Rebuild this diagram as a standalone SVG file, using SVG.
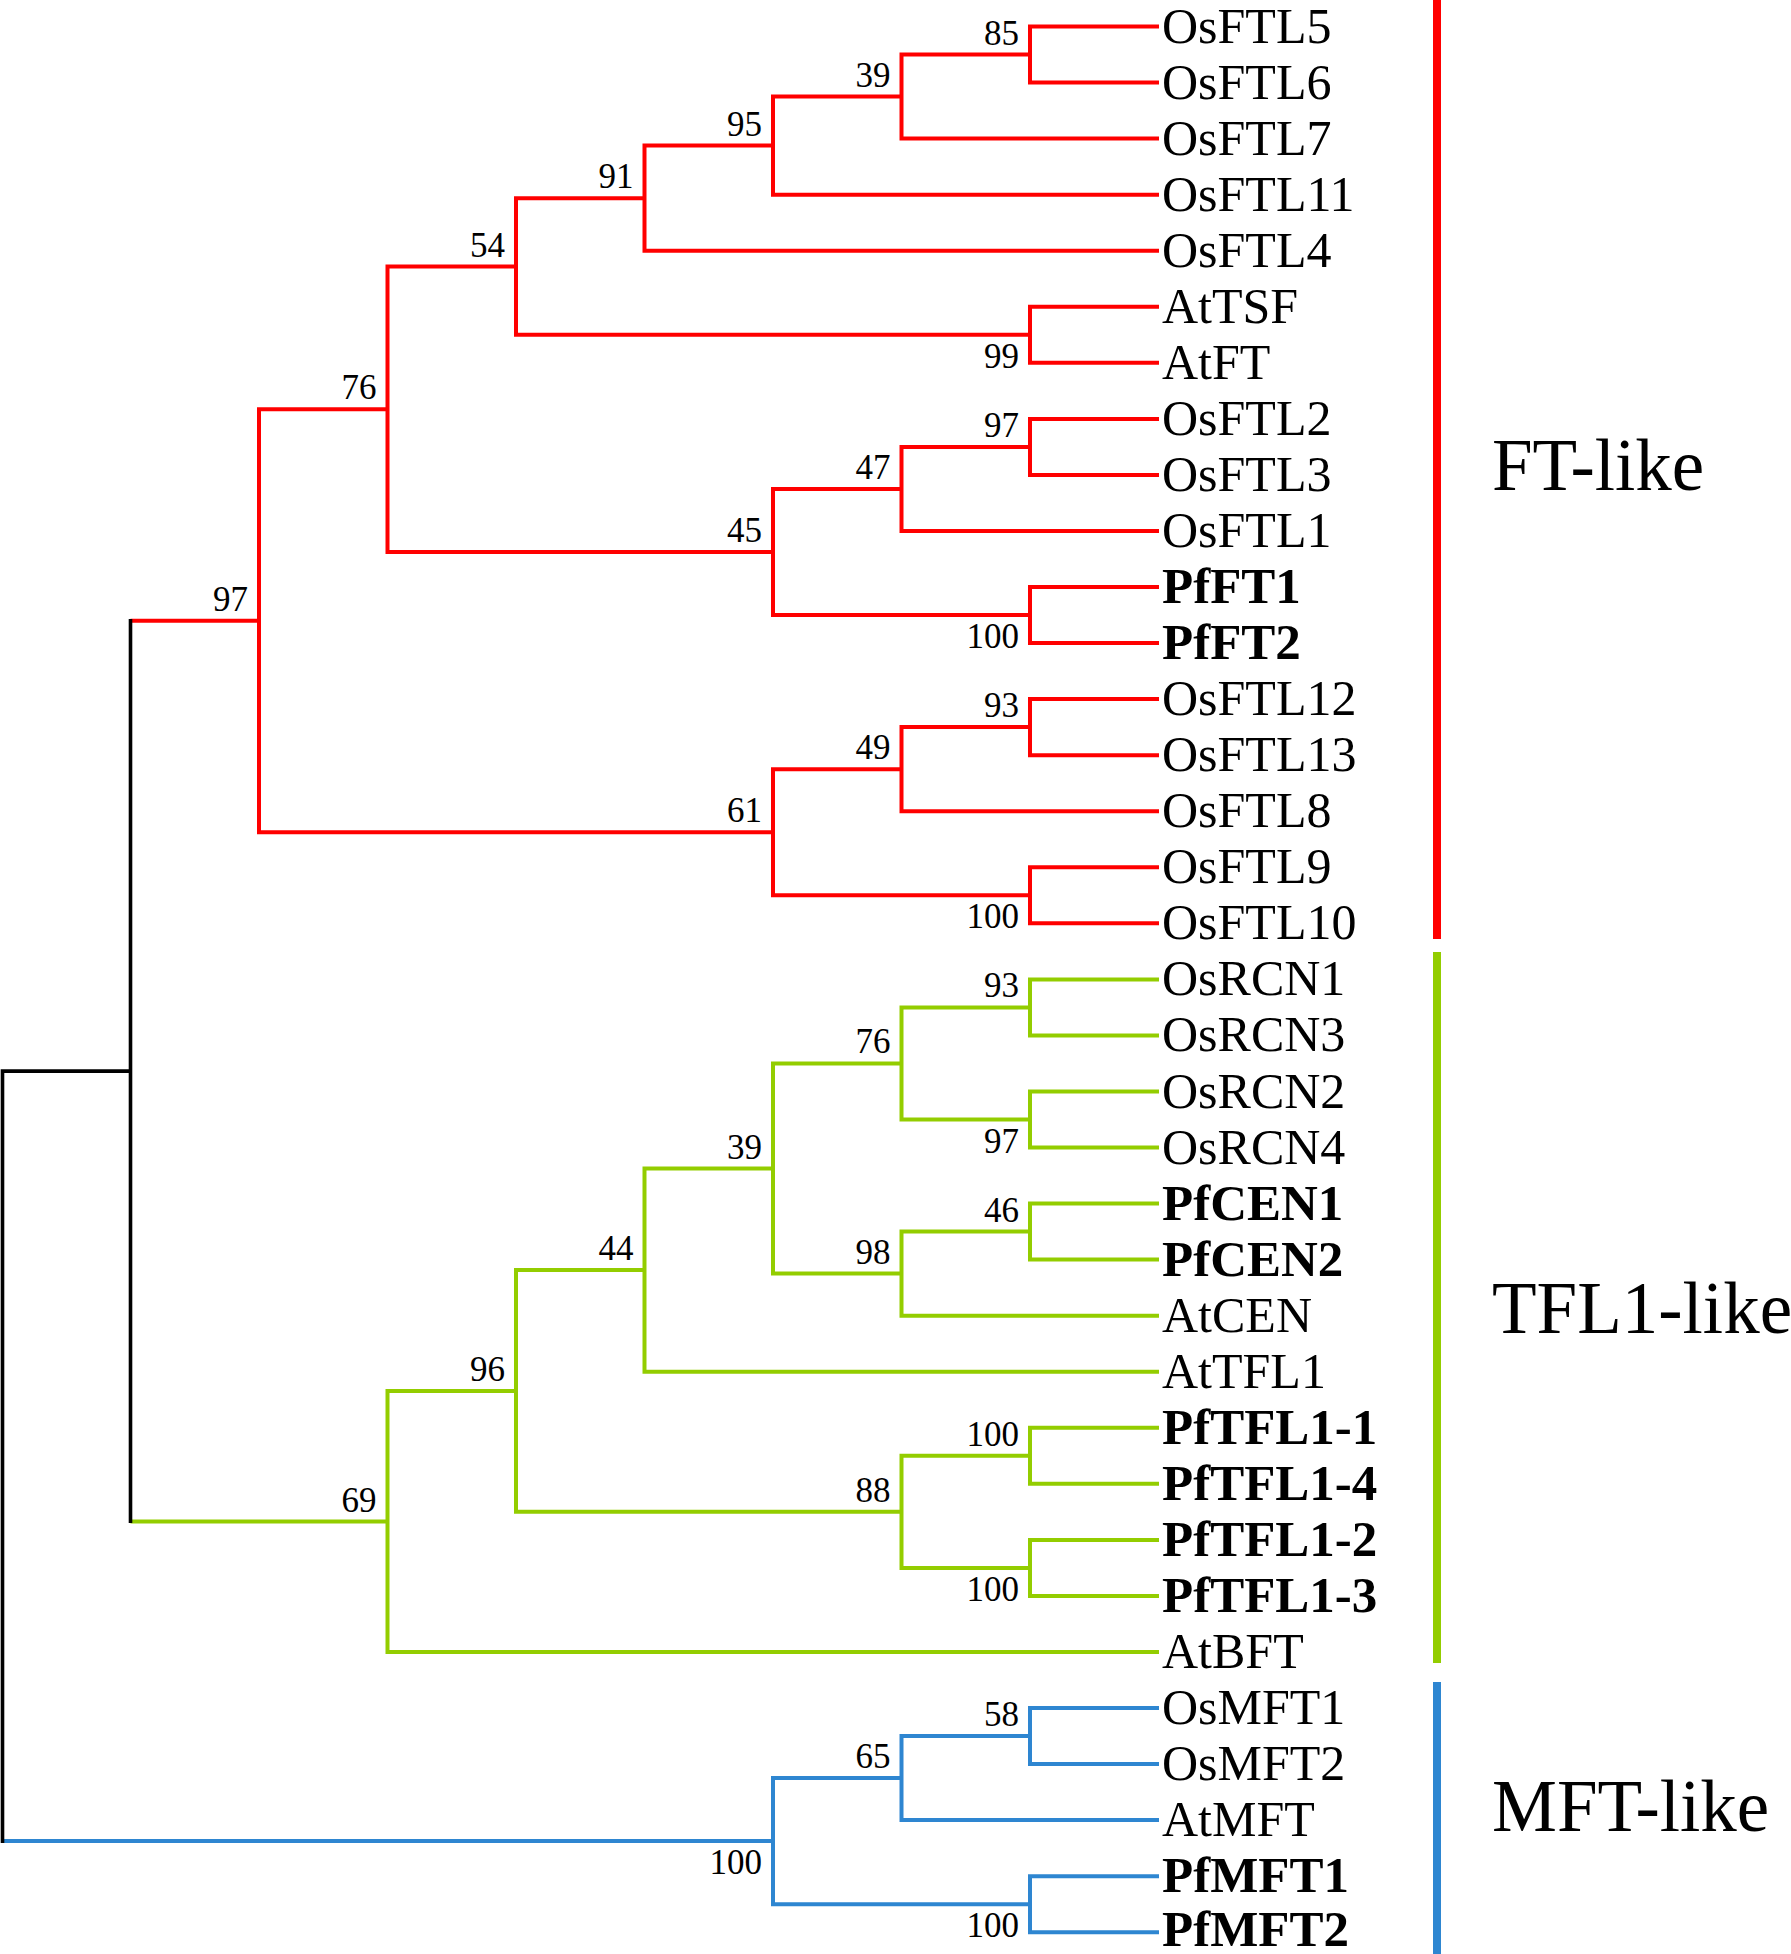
<svg xmlns="http://www.w3.org/2000/svg" width="1791" height="1954" viewBox="0 0 1791 1954">
<style>
.br{fill:none;stroke-width:4;stroke-linejoin:miter;stroke-linecap:butt}
.r{stroke:#FF0000}.g{stroke:#93CD00}.b{stroke:#2E86D1}.k{stroke:#000000;stroke-width:3.6}
.leaf{font-family:"Liberation Serif","Times New Roman",serif;font-size:50px;fill:#000}
.pf{font-weight:bold;font-size:51px}
.bs{font-family:"Liberation Serif","Times New Roman",serif;font-size:35px;fill:#000;text-anchor:end}
.clade{font-family:"Liberation Serif","Times New Roman",serif;font-size:73px;fill:#000}
</style>
<rect x="0" y="0" width="1791" height="1954" fill="#ffffff"/>
<g id="connectors">
<g id="ft-branches">
<path class="br r" d="M1159 26.5 H1030 V82.6 H1159"/>
<path class="br r" d="M1030 54.6 H901.5 V138.6 H1159"/>
<path class="br r" d="M901.5 96.6 H773 V194.7 H1159"/>
<path class="br r" d="M773 145.6 H644.5 V250.7 H1159"/>
<path class="br r" d="M1159 306.8 H1030 V362.8 H1159"/>
<path class="br r" d="M644.5 198.2 H516 V334.8 H1030"/>
<path class="br r" d="M1159 418.9 H1030 V474.9 H1159"/>
<path class="br r" d="M1030 446.9 H901.5 V531.0 H1159"/>
<path class="br r" d="M1159 587.0 H1030 V643.1 H1159"/>
<path class="br r" d="M901.5 489.0 H773 V615.0 H1030"/>
<path class="br r" d="M516 266.5 H387.5 V552.0 H773"/>
<path class="br r" d="M1159 699.1 H1030 V755.2 H1159"/>
<path class="br r" d="M1030 727.1 H901.5 V811.2 H1159"/>
<path class="br r" d="M1159 867.3 H1030 V923.3 H1159"/>
<path class="br r" d="M901.5 769.2 H773 V895.3 H1030"/>
<path class="br r" d="M387.5 409.3 H259 V832.2 H773"/>
<path class="br r" d="M130.5 620.8 H259"/>
</g>
<g id="tfl-branches">
<path class="br g" d="M1159 979.4 H1030 V1035.4 H1159"/>
<path class="br g" d="M1159 1091.5 H1030 V1147.5 H1159"/>
<path class="br g" d="M1030 1007.4 H901.5 V1119.5 H1030"/>
<path class="br g" d="M1159 1203.6 H1030 V1259.6 H1159"/>
<path class="br g" d="M1030 1231.6 H901.5 V1315.7 H1159"/>
<path class="br g" d="M901.5 1063.4 H773 V1273.6 H901.5"/>
<path class="br g" d="M773 1168.5 H644.5 V1371.7 H1159"/>
<path class="br g" d="M1159 1427.8 H1030 V1483.8 H1159"/>
<path class="br g" d="M1159 1539.9 H1030 V1595.9 H1159"/>
<path class="br g" d="M1030 1455.8 H901.5 V1567.9 H1030"/>
<path class="br g" d="M644.5 1270.1 H516 V1511.8 H901.5"/>
<path class="br g" d="M516 1391.0 H387.5 V1652.0 H1159"/>
<path class="br g" d="M130.5 1521.5 H387.5"/>
</g>
<g id="mft-branches">
<path class="br b" d="M2.5 1841.1 H773"/>
<path class="br b" d="M1159 1708.0 H1030 V1764.1 H1159"/>
<path class="br b" d="M1030 1736.0 H901.5 V1820.1 H1159"/>
<path class="br b" d="M1159 1876.2 H1030 V1932.2 H1159"/>
<path class="br b" d="M901.5 1778.1 H773 V1904.2 H1030"/>
</g>
<g id="root-branches">
<path class="br k" d="M130.5 619 V1523"/>
<path class="br k" d="M130.5 1071.1 H2.5 V1843"/>
</g>
</g>
<g id="clade-bars">
<rect id="bar-ft" x="1433" y="0" width="8" height="939" fill="#FF0000"/>
<rect id="bar-tfl" x="1433" y="952" width="8" height="711" fill="#93CD00"/>
<rect id="bar-mft" x="1433" y="1682" width="8" height="272" fill="#2E86D1"/>
</g>
<g id="clade-labels">
<g id="label-ft"><text class="clade" x="1492" y="490">FT-like</text></g>
<g id="label-tfl"><text class="clade" x="1492" y="1333">TFL1-like</text></g>
<g id="label-mft"><text class="clade" x="1492" y="1831">MFT-like</text></g>
</g>
<g id="leaves">
<g id="OsFTL5"><text class="leaf" x="1162" y="42.5">OsFTL5</text></g>
<g id="OsFTL6"><text class="leaf" x="1162" y="98.6">OsFTL6</text></g>
<g id="OsFTL7"><text class="leaf" x="1162" y="154.6">OsFTL7</text></g>
<g id="OsFTL11"><text class="leaf" x="1162" y="210.7">OsFTL11</text></g>
<g id="OsFTL4"><text class="leaf" x="1162" y="266.7">OsFTL4</text></g>
<g id="AtTSF"><text class="leaf" x="1162" y="322.8">AtTSF</text></g>
<g id="AtFT"><text class="leaf" x="1162" y="378.8">AtFT</text></g>
<g id="OsFTL2"><text class="leaf" x="1162" y="434.9">OsFTL2</text></g>
<g id="OsFTL3"><text class="leaf" x="1162" y="490.9">OsFTL3</text></g>
<g id="OsFTL1"><text class="leaf" x="1162" y="547.0">OsFTL1</text></g>
<g id="PfFT1"><text class="leaf pf" x="1162" y="603.0">PfFT1</text></g>
<g id="PfFT2"><text class="leaf pf" x="1162" y="659.1">PfFT2</text></g>
<g id="OsFTL12"><text class="leaf" x="1162" y="715.1">OsFTL12</text></g>
<g id="OsFTL13"><text class="leaf" x="1162" y="771.2">OsFTL13</text></g>
<g id="OsFTL8"><text class="leaf" x="1162" y="827.2">OsFTL8</text></g>
<g id="OsFTL9"><text class="leaf" x="1162" y="883.3">OsFTL9</text></g>
<g id="OsFTL10"><text class="leaf" x="1162" y="939.3">OsFTL10</text></g>
<g id="OsRCN1"><text class="leaf" x="1162" y="995.4">OsRCN1</text></g>
<g id="OsRCN3"><text class="leaf" x="1162" y="1051.4">OsRCN3</text></g>
<g id="OsRCN2"><text class="leaf" x="1162" y="1107.5">OsRCN2</text></g>
<g id="OsRCN4"><text class="leaf" x="1162" y="1163.5">OsRCN4</text></g>
<g id="PfCEN1"><text class="leaf pf" x="1162" y="1219.6">PfCEN1</text></g>
<g id="PfCEN2"><text class="leaf pf" x="1162" y="1275.6">PfCEN2</text></g>
<g id="AtCEN"><text class="leaf" x="1162" y="1331.7">AtCEN</text></g>
<g id="AtTFL1"><text class="leaf" x="1162" y="1387.7">AtTFL1</text></g>
<g id="PfTFL1-1"><text class="leaf pf" x="1162" y="1443.8">PfTFL1-1</text></g>
<g id="PfTFL1-4"><text class="leaf pf" x="1162" y="1499.8">PfTFL1-4</text></g>
<g id="PfTFL1-2"><text class="leaf pf" x="1162" y="1555.9">PfTFL1-2</text></g>
<g id="PfTFL1-3"><text class="leaf pf" x="1162" y="1611.9">PfTFL1-3</text></g>
<g id="AtBFT"><text class="leaf" x="1162" y="1668.0">AtBFT</text></g>
<g id="OsMFT1"><text class="leaf" x="1162" y="1724.0">OsMFT1</text></g>
<g id="OsMFT2"><text class="leaf" x="1162" y="1780.1">OsMFT2</text></g>
<g id="AtMFT"><text class="leaf" x="1162" y="1836.1">AtMFT</text></g>
<g id="PfMFT1"><text class="leaf pf" x="1162" y="1892.2">PfMFT1</text></g>
<g id="PfMFT2"><text class="leaf pf" x="1162" y="1946">PfMFT2</text></g>
</g>
<g id="bootstrap">
<g id="n85"><text class="bs" x="1019" y="44.6">85</text></g>
<g id="n39a"><text class="bs" x="890.5" y="86.6">39</text></g>
<g id="n95"><text class="bs" x="762" y="135.6">95</text></g>
<g id="n91"><text class="bs" x="633.5" y="188.2">91</text></g>
<g id="n54"><text class="bs" x="505" y="256.5">54</text></g>
<g id="n99"><text class="bs" x="1019" y="367.8">99</text></g>
<g id="n76a"><text class="bs" x="376.5" y="399.3">76</text></g>
<g id="n97b"><text class="bs" x="1019" y="436.9">97</text></g>
<g id="n47"><text class="bs" x="890.5" y="479">47</text></g>
<g id="n45"><text class="bs" x="762" y="542">45</text></g>
<g id="n100a"><text class="bs" x="1019" y="648">100</text></g>
<g id="n97a"><text class="bs" x="248" y="610.8">97</text></g>
<g id="n93a"><text class="bs" x="1019" y="717.1">93</text></g>
<g id="n49"><text class="bs" x="890.5" y="759.2">49</text></g>
<g id="n61"><text class="bs" x="762" y="822.2">61</text></g>
<g id="n100b"><text class="bs" x="1019" y="928.3">100</text></g>
<g id="n93b"><text class="bs" x="1019" y="997.4">93</text></g>
<g id="n76b"><text class="bs" x="890.5" y="1053.4">76</text></g>
<g id="n97c"><text class="bs" x="1019" y="1152.5">97</text></g>
<g id="n39b"><text class="bs" x="762" y="1158.5">39</text></g>
<g id="n46"><text class="bs" x="1019" y="1221.6">46</text></g>
<g id="n98"><text class="bs" x="890.5" y="1263.6">98</text></g>
<g id="n44"><text class="bs" x="633.5" y="1260.1">44</text></g>
<g id="n96"><text class="bs" x="505" y="1381">96</text></g>
<g id="n100c"><text class="bs" x="1019" y="1445.8">100</text></g>
<g id="n88"><text class="bs" x="890.5" y="1501.8">88</text></g>
<g id="n100d"><text class="bs" x="1019" y="1600.9">100</text></g>
<g id="n69"><text class="bs" x="376.5" y="1511.5">69</text></g>
<g id="n58"><text class="bs" x="1019" y="1726">58</text></g>
<g id="n65"><text class="bs" x="890.5" y="1768.1">65</text></g>
<g id="n100m"><text class="bs" x="762" y="1874.1">100</text></g>
<g id="n100e"><text class="bs" x="1019" y="1937.2">100</text></g>
</g>
</svg>
